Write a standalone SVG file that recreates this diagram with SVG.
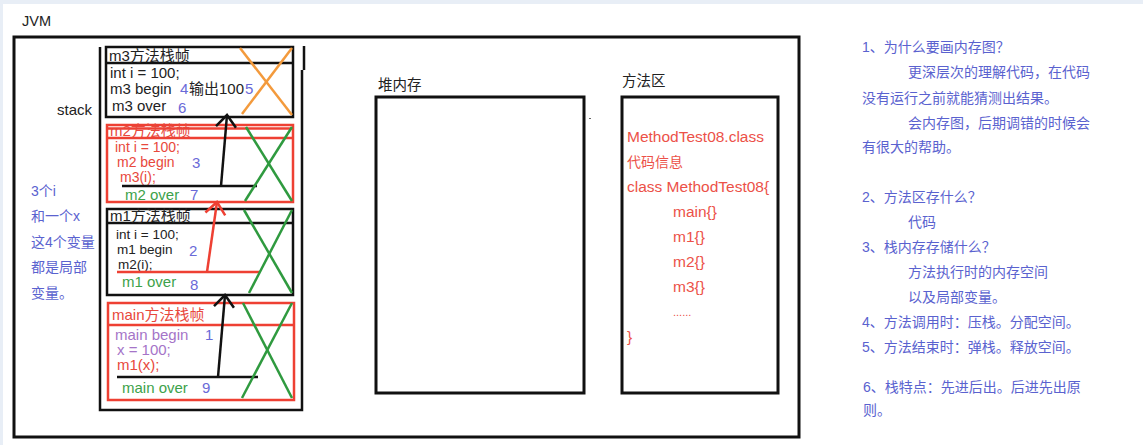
<svg xmlns="http://www.w3.org/2000/svg" width="1143" height="445" viewBox="0 0 1143 445">
<style>
text{font-family:"Liberation Sans","Noto Sans CJK SC",sans-serif;font-size:15px}
.blk{fill:#222}
.red{fill:#e8483c}
.grn{fill:#3da24a}
.num{fill:#6a6ad8}
.pur{fill:#a574c8}
.sm{font-size:14px}
.xs{font-size:13.5px}
.note{fill:#5a62cf;font-size:14px}
.box{fill:none;stroke:#111;stroke-width:3}
.fb{fill:none;stroke:#111;stroke-width:2.5}
.fr{fill:none;stroke:#ee4033;stroke-width:2.5}
.xg{stroke:#2f9a3f;stroke-width:2.5}
.xo{stroke:#f39a3c;stroke-width:2.5}
.ma{fill:#ec5148;font-size:15.5px}
</style>
<defs>
<marker id="ahb" viewBox="-14 -12 16 24" markerWidth="16" markerHeight="24" refX="0" refY="0" orient="auto" markerUnits="userSpaceOnUse">
<path d="M-12,-10 L0,0 L-12,10" fill="none" stroke="#111" stroke-width="2.5"/>
</marker>
<marker id="ahr" viewBox="-14 -12 16 24" markerWidth="16" markerHeight="24" refX="0" refY="0" orient="auto" markerUnits="userSpaceOnUse">
<path d="M-12,-10 L0,0 L-12,10" fill="none" stroke="#ee4033" stroke-width="2.5"/>
</marker>
</defs>
<rect x="0" y="0" width="1143" height="445" fill="#e8eef6"/>
<rect x="3" y="4" width="1140" height="441" fill="#fff"/>

<g id="jvm">
<rect class="box" x="14" y="37" width="785" height="400"/>
<text x="22" y="26" class="blk" style="font-size:14.5px">JVM</text>
</g>

<g id="stack">
<path d="M100,47 V410 H302 V70 M304,46 V70" fill="none" stroke="#111" stroke-width="2.5"/>
<text x="57" y="115" class="blk">stack</text>
</g>

<g id="left-note">
<text class="note" x="31" y="196">3个i</text>
<text class="note" x="31" y="221">和一个x</text>
<text class="note" x="31" y="247">这4个变量</text>
<text class="note" x="31" y="272">都是局部</text>
<text class="note" x="31" y="298">变量。</text>
</g>

<g id="frame-m3">
<rect class="fb" x="106" y="47" width="187" height="70"/>
<line class="fb" x1="106" y1="63" x2="293" y2="63"/>
<text x="109" y="61" class="blk">m3方法栈帧</text>
<text x="110" y="78" class="blk">int i = 100;</text>
<text x="110" y="94" class="blk">m3 begin</text>
<text x="180" y="94" class="num">4</text>
<text x="189" y="94" class="blk">输出100</text>
<text x="245" y="94" class="num">5</text>
<text x="112" y="111" class="blk">m3 over</text>
<text x="178" y="113" class="num">6</text>
<line class="xo" x1="240" y1="48" x2="292" y2="115"/>
<line class="xo" x1="292" y1="48" x2="242" y2="114"/>
</g>

<g id="frame-m2">
<rect class="fr" x="107" y="125" width="186" height="77"/>
<line class="fr" x1="107" y1="128.5" x2="293" y2="128.5" stroke-width="1.5"/>
<line class="fr" x1="107" y1="138" x2="293" y2="138"/>
<text x="110" y="136" class="red">m2方法栈帧</text>
<text x="115" y="152" class="red sm">int i = 100;</text>
<text x="117" y="167" class="red sm">m2 begin</text>
<text x="192" y="168" class="num">3</text>
<text x="120" y="182" class="red sm">m3(i);</text>
<line x1="122" y1="186" x2="257" y2="186" stroke="#111" stroke-width="2.5"/>
<text x="125" y="200" class="grn">m2 over</text>
<text x="190" y="200" class="num">7</text>
<line class="xg" x1="246" y1="127" x2="292" y2="201"/>
<line class="xg" x1="292" y1="127" x2="245" y2="201"/>
</g>

<g id="frame-m1">
<rect class="fb" x="107" y="209" width="186" height="86"/>
<line class="fb" x1="107" y1="223" x2="293" y2="223"/>
<text x="110" y="221" class="blk">m1方法栈帧</text>
<text x="116" y="239" class="blk xs">int i = 100;</text>
<text x="117" y="254" class="blk xs">m1 begin</text>
<text x="189" y="256" class="num">2</text>
<text x="118" y="268.5" class="blk xs">m2(i);</text>
<line x1="117" y1="272" x2="260" y2="272" stroke="#ee4033" stroke-width="2.5"/>
<text x="122" y="287" class="grn">m1 over</text>
<text x="190" y="290" class="num">8</text>
<line class="xg" x1="244" y1="210" x2="292" y2="293"/>
<line class="xg" x1="292" y1="210" x2="249" y2="293"/>
</g>

<g id="frame-main">
<rect class="fr" x="108" y="303" width="186" height="97"/>
<line class="fr" x1="108" y1="325" x2="294" y2="325"/>
<text x="112" y="320" class="red">main方法栈帧</text>
<text x="115" y="340" class="pur">main begin</text>
<text x="205" y="340" class="num">1</text>
<text x="117" y="355" class="pur">x = 100;</text>
<text x="117" y="370" class="red">m1(x);</text>
<line x1="117" y1="377" x2="258" y2="377" stroke="#111" stroke-width="2.5"/>
<text x="122" y="393" class="grn">main over</text>
<text x="202" y="393" class="num">9</text>
<line class="xg" x1="243" y1="303" x2="292" y2="398"/>
<line class="xg" x1="292" y1="303" x2="242" y2="398"/>
</g>

<g id="connectors">
<line x1="218" y1="377" x2="225" y2="295" stroke="#111" stroke-width="2.5" marker-end="url(#ahb)"/>
<line x1="207" y1="272" x2="217" y2="202" stroke="#ee4033" stroke-width="2.5" marker-end="url(#ahr)"/>
<line x1="221" y1="186" x2="227" y2="115" stroke="#111" stroke-width="2.5" marker-end="url(#ahb)"/>
</g>

<g id="heap">
<rect class="box" x="376" y="97" width="208" height="296"/>
<text x="378" y="90" class="blk" style="font-size:14.5px">堆内存</text>
<rect x="589" y="118" width="2" height="1" fill="#666"/>
</g>

<g id="method-area">
<rect class="box" x="622" y="97" width="156" height="296"/>
<text x="622" y="86" class="blk" style="font-size:14.5px">方法区</text>
<text x="627" y="142" class="ma">MethodTest08.class</text>
<text x="627" y="167" class="ma" style="font-size:14px">代码信息</text>
<text x="627" y="192" class="ma">class MethodTest08{</text>
<text x="673" y="217" class="ma">main{}</text>
<text x="673" y="242" class="ma">m1{}</text>
<text x="673" y="267" class="ma">m2{}</text>
<text x="673" y="292" class="ma">m3{}</text>
<text x="673" y="316" class="ma" style="font-size:11px">......</text>
<text x="627" y="342" class="ma">}</text>
</g>

<g id="notes">
<text class="note" x="862" y="52">1、为什么要画内存图？</text>
<text class="note" x="908" y="77">更深层次的理解代码，在代码</text>
<text class="note" x="862" y="103">没有运行之前就能猜测出结果。</text>
<text class="note" x="908" y="128">会内存图，后期调错的时候会</text>
<text class="note" x="862" y="152">有很大的帮助。</text>
<text class="note" x="862" y="202">2、方法区存什么？</text>
<text class="note" x="908" y="227">代码</text>
<text class="note" x="862" y="252">3、栈内存存储什么？</text>
<text class="note" x="908" y="277">方法执行时的内存空间</text>
<text class="note" x="908" y="302">以及局部变量。</text>
<text class="note" x="862" y="327">4、方法调用时：压栈。分配空间。</text>
<text class="note" x="862" y="352">5、方法结束时：弹栈。释放空间。</text>
<text class="note" x="863" y="392">6、栈特点：先进后出。后进先出原</text>
<text class="note" x="863" y="415">则。</text>
</g>
</svg>
